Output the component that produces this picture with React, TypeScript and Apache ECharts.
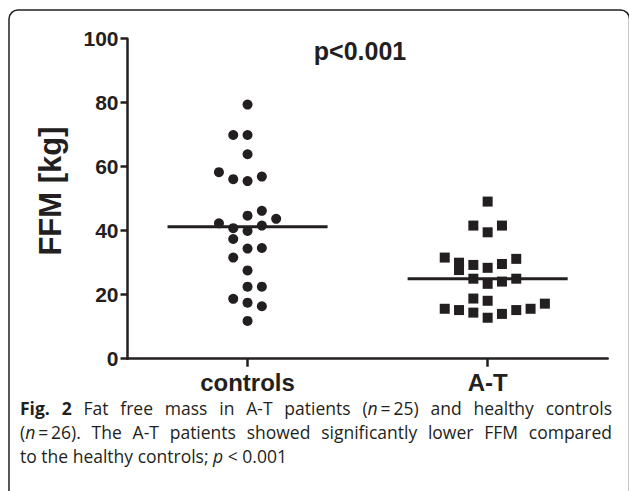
import React, { useEffect, useRef } from "react";
import * as echarts from "echarts";

// ---------- data ----------
const categories = ["controls", "A-T"];
const controlsValues = [79.4, 69.9, 69.9, 63.9, 58.3, 56.1, 55.5, 56.9, 46.2, 44.7, 43.7, 42.3, 41.6, 40.8, 39.9, 37.4, 34.4, 34.6, 31.6, 27.6, 22.5, 22.5, 18.7, 17.5, 16.4, 11.8];
// beeswarm column of each point (0 = category centre)
const controlsSlots = [0, -1, 0, 0, -2, -1, 0, 1, 1, 0, 2, -2, 1, -1, 0, -1, 0, 1, -1, 0, 0, 1, -1, 0, 1, 0];
const atValues = [49.1, 41.6, 41.6, 39.5, 31.6, 30.0, 27.7, 29.3, 28.4, 29.6, 31.2, 25.0, 23.4, 24.1, 25.0, 18.8, 18.1, 15.6, 15.2, 14.4, 12.8, 14.0, 15.2, 15.6, 17.2];
const atSlots = [0, -1, 1, 0, -3, -2, -2, -1, 0, 1, 2, -1, 0, 1, 2, -1, 0, -3, -2, -1, 0, 1, 2, 3, 4];
const groupMeans = [41.2, 25.0];
const yTickLabels = ["0", "20", "40", "60", "80", "100"];
const pLabel = "p<0.001";
const yAxisTitle = "FFM [kg]";

type Run = { t: string; s?: "r" | "b" | "i" };
const captionLines: { words: Run[][]; justify: boolean }[] = [
  {
    justify: true,
    words: [
      [{ t: "Fig.", s: "b" }], [{ t: "2", s: "b" }], [{ t: "Fat" }], [{ t: "free" }], [{ t: "mass" }], [{ t: "in" }],
      [{ t: "A-T" }], [{ t: "patients" }], [{ t: "(" }, { t: "n", s: "i" }, { t: "\u2009=\u200925)" }],
      [{ t: "and" }], [{ t: "healthy" }], [{ t: "controls" }],
    ],
  },
  {
    justify: true,
    words: [
      [{ t: "(" }, { t: "n", s: "i" }, { t: "\u2009=\u200926)." }], [{ t: "The" }], [{ t: "A-T" }], [{ t: "patients" }],
      [{ t: "showed" }], [{ t: "significantly" }], [{ t: "lower" }], [{ t: "FFM" }], [{ t: "compared" }],
    ],
  },
  {
    justify: false,
    words: [
      [{ t: "to" }], [{ t: "the" }], [{ t: "healthy" }], [{ t: "controls;" }],
      [{ t: "p", s: "i" }], [{ t: "<" }], [{ t: "0.001" }],
    ],
  },
];

const INK = "#231f20";
const AXIS_FONT = "'Liberation Sans', Arial, Helvetica, sans-serif";
const CAP_FONT = "'Open Sans', 'Noto Sans', sans-serif";
const CAP_SIZE = 17.5;

function buildCaption(): any[] {
  const canvas = document.createElement("canvas");
  const ctx = canvas.getContext("2d")!;
  const fontOf = (s?: string) =>
    `${s === "i" ? "italic " : ""}${s === "b" ? "bold " : ""}${CAP_SIZE}px ${CAP_FONT}`;
  const measure = (r: Run) => {
    ctx.font = fontOf(r.s);
    return ctx.measureText(r.t).width;
  };
  ctx.font = fontOf();
  const spaceW = ctx.measureText(" ").width;
  const left = 20;
  const right = 612;
  const lineYs = [408, 432, 456];
  const els: any[] = [];
  captionLines.forEach((line, li) => {
    const widths = line.words.map((w) => w.reduce((a, r) => a + measure(r), 0));
    const natural = widths.reduce((a, b) => a + b, 0);
    const gaps = line.words.length - 1;
    const gap = line.justify ? (right - left - natural) / gaps : spaceW;
    let x = left;
    line.words.forEach((w, wi) => {
      let rx = x;
      w.forEach((r) => {
        els.push({
          type: "text",
          x: rx,
          y: lineYs[li],
          silent: true,
          style: {
            text: r.t,
            fontFamily: CAP_FONT,
            fontSize: CAP_SIZE,
            fontWeight: r.s === "b" ? "bold" : "normal",
            fontStyle: r.s === "i" ? "italic" : "normal",
            fill: INK,
            verticalAlign: "middle",
            align: "left",
          },
        });
        rx += measure(r);
      });
      x += widths[wi] + gap;
    });
  });
  return els;
}

export default function App() {
  const ref = useRef<HTMLDivElement>(null);
  useEffect(() => {
    if (!ref.current) return;
    const chart = echarts.init(ref.current, undefined, { renderer: "svg" });
    const SLOT = 14.3 / 240; // column step in category units
    const half = 1 / 3; // half length of mean line
    const mk = (vals: number[], slots: number[], ci: number) =>
      vals.map((v, i) => [ci + slots[i] * SLOT, v]);

    const option: any = {
      animation: false,
      grid: { left: 127.5, right: 21.3, top: 38.7, bottom: 132.3, containLabel: false },
      xAxis: [
        {
          type: "category",
          data: categories,
          boundaryGap: true,
          axisLine: { show: true, onZero: false, lineStyle: { color: INK, width: 2.5 } },
          axisTick: { show: true, alignWithLabel: true, length: 8, lineStyle: { color: INK, width: 2.5 } },
          axisLabel: { color: INK, fontFamily: AXIS_FONT, fontWeight: "bold", fontSize: 24, margin: 12 },
          splitLine: { show: false },
        },
        { type: "value", min: -0.5, max: 1.5, show: false },
      ],
      yAxis: {
        type: "value",
        min: 0,
        max: 100,
        interval: 20,
        axisLine: { show: true, onZero: false, lineStyle: { color: INK, width: 2.5 } },
        axisTick: { show: true, length: 7, lineStyle: { color: INK, width: 2.5 } },
        axisLabel: {
          color: INK,
          fontFamily: AXIS_FONT,
          fontWeight: "bold",
          fontSize: 21,
          margin: 9,
          formatter: (v: number) => yTickLabels[Math.round(v / 20)] ?? String(v),
        },
        splitLine: { show: false },
      },
      series: [
        {
          type: "scatter",
          xAxisIndex: 1,
          symbol: "circle",
          symbolSize: 10,
          itemStyle: { color: INK, opacity: 1 },
          data: mk(controlsValues, controlsSlots, 0),
        },
        {
          type: "scatter",
          xAxisIndex: 1,
          symbol: "rect",
          symbolSize: 10,
          itemStyle: { color: INK, opacity: 1 },
          data: mk(atValues, atSlots, 1),
        },
        ...groupMeans.map((m, i) => ({
          type: "line",
          xAxisIndex: 1,
          symbol: "none",
          lineStyle: { color: INK, width: 3 },
          data: [
            [i - half, m],
            [i + half, m],
          ],
          z: 3,
        })),
      ],
      graphic: [
        {
          type: "rect",
          shape: { x: 9, y: 10, width: 620.5, height: 520, r: 9 },
          style: { fill: "none", stroke: INK, lineWidth: 1.5 },
          silent: true,
        },
        {
          type: "text",
          x: 50,
          y: 191,
          rotation: Math.PI / 2,
          style: {
            text: yAxisTitle,
            fontFamily: AXIS_FONT,
            fontWeight: "bold",
            fontSize: 31,
            fill: INK,
            align: "center",
            verticalAlign: "middle",
          },
        },
        {
          type: "text",
          x: 360,
          y: 51,
          style: {
            text: pLabel,
            fontFamily: AXIS_FONT,
            fontWeight: "bold",
            fontSize: 25,
            fill: INK,
            align: "center",
            verticalAlign: "middle",
          },
        },
        ...buildCaption(),
      ],
    };
    chart.setOption(option);
    return () => chart.dispose();
  }, []);
  return (
    <div
      ref={ref}
      style={{ position: "fixed", left: 0, top: 0, width: 629, height: 491, background: "#fff" }}
    />
  );
}
